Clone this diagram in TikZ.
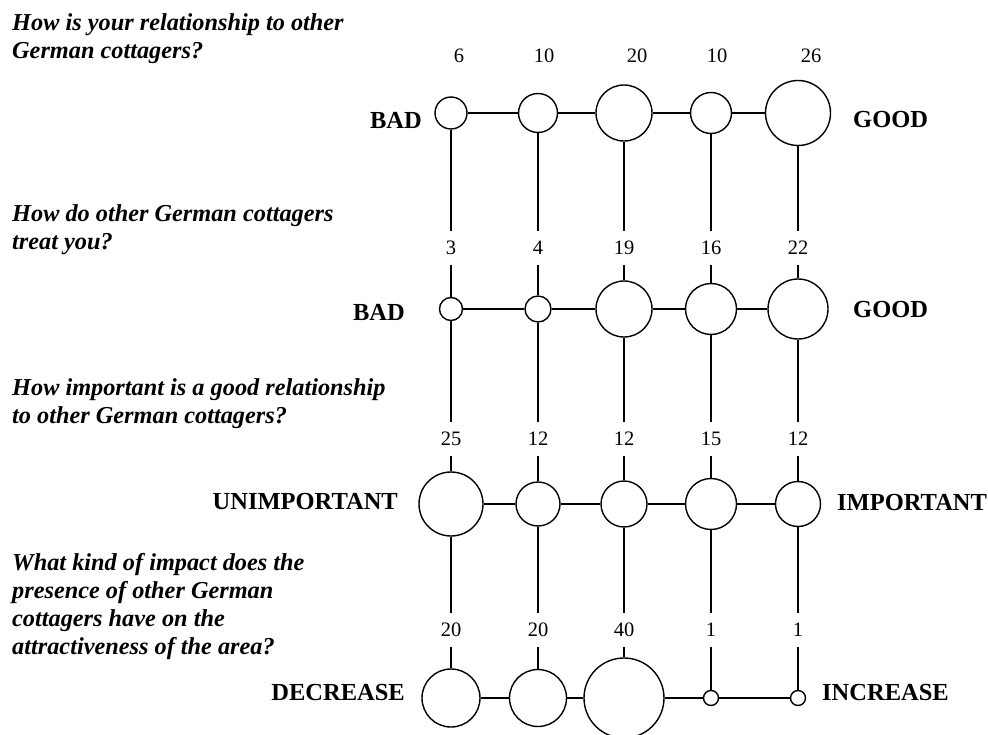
\documentclass[tikz,border=0pt]{standalone}
\usepackage{fontspec}
\setmainfont{Liberation Serif}
\tikzset{
  dot/.style={circle, draw, line width=1.4pt, inner sep=0pt, minimum size=#1},
  tally/.style={inner sep=0pt, minimum height=33pt, font=\fontsize{20.5}{24}\selectfont},
  pole/.style={inner sep=0pt, font=\bfseries\fontsize{24.5}{28}\selectfont},
  question/.style={inner sep=0pt, anchor=north west, align=left, font=\bfseries\itshape\fontsize{24.3}{28}\selectfont},
  tie/.style={line width=1.4pt}
}
\begin{document}
\begin{tikzpicture}[x=1pt, y=-1pt]
  \useasboundingbox (0,0) rectangle (988,735);
  % questions
  \node[question] (qa) at (12,13) {How is your relationship to other\\German cottagers?};
  \node[question] (qb) at (12,204) {How do other German cottagers\\treat you?};
  \node[question] (qc) at (12,378) {How important is a good relationship\\to other German cottagers?};
  \node[question] (qd) at (12,553) {What kind of impact does the\\presence of other German\\cottagers have on the\\attractiveness of the area?};
  % first row
  \node[tally] (na1) at (459,56) {6};
  \node[tally] (na2) at (544,56) {10};
  \node[tally] (na3) at (637,56) {20};
  \node[tally] (na4) at (717,56) {10};
  \node[tally] (na5) at (811,56) {26};
  \node[dot=32pt] (a1) at (451,113) {};
  \node[dot=39pt] (a2) at (538,113) {};
  \node[dot=56pt] (a3) at (624,113) {};
  \node[dot=41pt] (a4) at (711,113) {};
  \node[dot=65pt] (a5) at (798,113) {};
  \node[pole, anchor=east] (la) at (422,120) {BAD};
  \node[pole, anchor=west] (ra) at (853,120) {GOOD};
  % second row
  \node[tally] (nb1) at (451,248) {3};
  \node[tally] (nb2) at (538,248) {4};
  \node[tally] (nb3) at (624,248) {19};
  \node[tally] (nb4) at (711,248) {16};
  \node[tally] (nb5) at (798,248) {22};
  \node[dot=23pt] (b1) at (451,309) {};
  \node[dot=26pt] (b2) at (538,309) {};
  \node[dot=56pt] (b3) at (624,309) {};
  \node[dot=51pt] (b4) at (711,309) {};
  \node[dot=60pt] (b5) at (798,309) {};
  \node[pole, anchor=east] (lb) at (405,312) {BAD};
  \node[pole, anchor=west] (rb) at (853,310) {GOOD};
  % third row
  \node[tally] (nc1) at (451,439) {25};
  \node[tally] (nc2) at (538,439) {12};
  \node[tally] (nc3) at (624,439) {12};
  \node[tally] (nc4) at (711,439) {15};
  \node[tally] (nc5) at (798,439) {12};
  \node[dot=64pt] (c1) at (451,504) {};
  \node[dot=44pt] (c2) at (538,504) {};
  \node[dot=46pt] (c3) at (624,504) {};
  \node[dot=51pt] (c4) at (711,504) {};
  \node[dot=45pt] (c5) at (798,504) {};
  \node[pole, anchor=east] (lc) at (398,502) {UNIMPORTANT};
  \node[pole, anchor=west] (rc) at (837,503) {IMPORTANT};
  % fourth row
  \node[tally] (nd1) at (451,630) {20};
  \node[tally] (nd2) at (538,630) {20};
  \node[tally] (nd3) at (624,630) {40};
  \node[tally] (nd4) at (711,630) {1};
  \node[tally] (nd5) at (798,630) {1};
  \node[dot=58pt] (d1) at (451,698) {};
  \node[dot=57pt] (d2) at (538,698) {};
  \node[dot=80pt] (d3) at (624,698) {};
  \node[dot=15pt] (d4) at (711,698) {};
  \node[dot=15pt] (d5) at (798,698) {};
  \node[pole, anchor=east] (ld) at (405,693) {DECREASE};
  \node[pole, anchor=west] (rd) at (822,693) {INCREASE};
  % rows
  \path[tie] (a1) edge (a2) (a2) edge (a3) (a3) edge (a4) (a4) edge (a5);
  \path[tie] (b1) edge (b2) (b2) edge (b3) (b3) edge (b4) (b4) edge (b5);
  \path[tie] (c1) edge (c2) (c2) edge (c3) (c3) edge (c4) (c4) edge (c5);
  \path[tie] (d1) edge (d2) (d2) edge (d3) (d3) edge (d4) (d4) edge (d5);
  % columns
  \path[tie] (a1) edge (nb1) (nb1) edge (b1) (b1) edge (nc1) (nc1) edge (c1) (c1) edge (nd1) (nd1) edge (d1);
  \path[tie] (a2) edge (nb2) (nb2) edge (b2) (b2) edge (nc2) (nc2) edge (c2) (c2) edge (nd2) (nd2) edge (d2);
  \path[tie] (a3) edge (nb3) (nb3) edge (b3) (b3) edge (nc3) (nc3) edge (c3) (c3) edge (nd3) (nd3) edge (d3);
  \path[tie] (a4) edge (nb4) (nb4) edge (b4) (b4) edge (nc4) (nc4) edge (c4) (c4) edge (nd4) (nd4) edge (d4);
  \path[tie] (a5) edge (nb5) (nb5) edge (b5) (b5) edge (nc5) (nc5) edge (c5) (c5) edge (nd5) (nd5) edge (d5);
\end{tikzpicture}
\end{document}
